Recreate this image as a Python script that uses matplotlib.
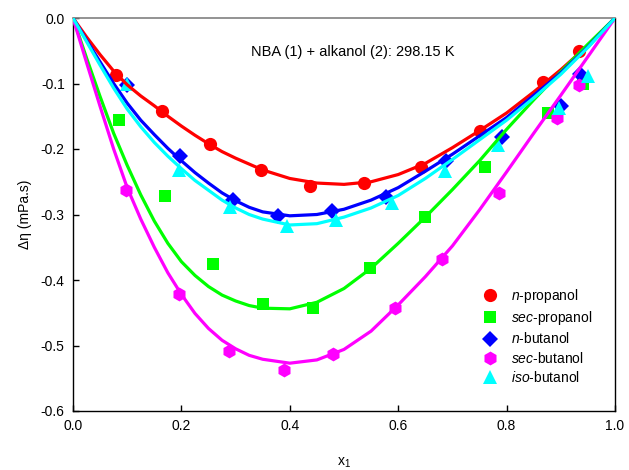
import matplotlib
matplotlib.use("Agg")
import matplotlib.pyplot as plt
from matplotlib.lines import Line2D

plt.rcParams['font.family'] = ['Liberation Sans', 'DejaVu Sans']
plt.rcParams['mathtext.fontset'] = 'custom'
plt.rcParams['mathtext.rm'] = 'Liberation Sans'
plt.rcParams['mathtext.it'] = 'Liberation Sans:italic'

# ---- experimental points ----
x_nprop = [0.079, 0.165, 0.253, 0.346, 0.438, 0.536, 0.642, 0.751, 0.868, 0.934]
y_nprop = [-0.087, -0.142, -0.192, -0.232, -0.256, -0.252, -0.227, -0.173, -0.097, -0.051]

x_sprop = [0.084, 0.170, 0.259, 0.350, 0.442, 0.548, 0.649, 0.761, 0.876, 0.941]
y_sprop = [-0.155, -0.271, -0.375, -0.437, -0.442, -0.382, -0.304, -0.227, -0.145, -0.100]

x_nbut = [0.100, 0.197, 0.295, 0.379, 0.477, 0.577, 0.689, 0.792, 0.900, 0.935]
y_nbut = [-0.102, -0.210, -0.278, -0.302, -0.295, -0.273, -0.219, -0.181, -0.135, -0.085]

x_sbut = [0.097, 0.196, 0.288, 0.390, 0.480, 0.594, 0.681, 0.786, 0.893, 0.934]
y_sbut = [-0.262, -0.422, -0.509, -0.537, -0.513, -0.443, -0.368, -0.267, -0.152, -0.102]

x_ibut = [0.099, 0.196, 0.290, 0.395, 0.486, 0.588, 0.686, 0.785, 0.896, 0.950]
y_ibut = [-0.100, -0.232, -0.289, -0.318, -0.309, -0.283, -0.233, -0.194, -0.138, -0.088]

# ---- fitted curves ----
xf = [0.0, 0.025, 0.05, 0.075, 0.10, 0.125, 0.15, 0.175, 0.20, 0.225, 0.25, 0.275, 0.30,
      0.325, 0.35, 0.40, 0.45, 0.50, 0.55, 0.60, 0.65, 0.70, 0.75, 0.80, 0.85, 0.90,
      0.95, 1.0]
fit_nprop = [0.0, -0.029, -0.056, -0.081, -0.102, -0.119, -0.134, -0.150, -0.165, -0.179,
             -0.192, -0.204, -0.214, -0.223, -0.232, -0.245, -0.252, -0.254, -0.250,
             -0.239, -0.222, -0.198, -0.172, -0.145, -0.113, -0.079, -0.042, 0.0]
fit_sprop = [0.0, -0.061, -0.120, -0.176, -0.225, -0.270, -0.310, -0.344, -0.372, -0.393,
             -0.410, -0.423, -0.432, -0.439, -0.443, -0.444, -0.434, -0.413, -0.382,
             -0.344, -0.304, -0.262, -0.218, -0.170, -0.125, -0.082, -0.040, 0.0]
fit_nbut = [0.0, -0.034, -0.067, -0.100, -0.130, -0.156, -0.178, -0.199, -0.218, -0.236,
            -0.252, -0.267, -0.279, -0.289, -0.296, -0.302, -0.300, -0.292, -0.278,
            -0.259, -0.234, -0.208, -0.180, -0.152, -0.118, -0.084, -0.044, 0.0]
fit_sbut = [0.0, -0.068, -0.135, -0.200, -0.259, -0.307, -0.350, -0.389, -0.422, -0.451,
            -0.474, -0.492, -0.505, -0.515, -0.521, -0.527, -0.522, -0.506, -0.478,
            -0.438, -0.395, -0.348, -0.293, -0.235, -0.176, -0.118, -0.059, 0.0]
fit_ibut = [0.0, -0.036, -0.072, -0.107, -0.139, -0.166, -0.190, -0.211, -0.230, -0.248,
            -0.263, -0.278, -0.290, -0.300, -0.307, -0.316, -0.314, -0.304, -0.290,
            -0.271, -0.245, -0.216, -0.186, -0.156, -0.122, -0.086, -0.045, 0.0]

labels = [r'$\it{n}$-propanol', r'$\it{sec}$-propanol', r'$\it{n}$-butanol',
          r'$\it{sec}$-butanol', r'$\it{iso}$-butanol']
colors = ['#FF0000', '#00FF00', '#0000FF', '#FF00FF', '#00FFFF']
markers = ['o', 's', 'D', 'h', '^']
msizes = [9.5, 9, 8, 10, 9.5]

xt = [0.0, 0.2, 0.4, 0.6, 0.8, 1.0]
yt = [0.0, -0.1, -0.2, -0.3, -0.4, -0.5, -0.6]

fig = plt.figure(figsize=(6.29, 4.70), dpi=100)
ax = fig.add_axes([73/629, 1-411/470, (615-73)/629, (411-18)/470])

pts = [(x_nprop, y_nprop), (x_sprop, y_sprop), (x_nbut, y_nbut), (x_sbut, y_sbut), (x_ibut, y_ibut)]
fits = [fit_nprop, fit_sprop, fit_nbut, fit_sbut, fit_ibut]

for (px, py), c, m, ms in zip(pts, colors, markers, msizes):
    ax.plot(px, py, linestyle='none', marker=m, color=c, markersize=ms,
            markeredgewidth=0, zorder=3)
for f, c in zip(fits, colors):
    ax.plot(xf, f, color=c, linewidth=2.3, zorder=4, solid_joinstyle='round',
            solid_capstyle='round')

ax.set_xlim(0, 1)
ax.set_ylim(-0.6, 0)
ax.set_xticks(xt)
ax.set_yticks(yt)
ax.set_xticklabels(['%.1f' % v for v in xt])
ax.set_yticklabels(['%.1f' % v for v in yt])
ax.tick_params(direction='in', length=4.5, width=1, labelsize=10, pad=6,
               top=False, right=False)
for s in ['left', 'bottom', 'right']:
    ax.spines[s].set_color('black')
    ax.spines[s].set_linewidth(1)
ax.spines['top'].set_color('#808080')
ax.spines['top'].set_linewidth(1.2)

ax.set_xlabel(r'x$_1$', fontsize=10, labelpad=16)
ax.set_ylabel('Δη (mPa.s)', fontsize=10, labelpad=6)

ax.text(0.517, -0.052, 'NBA (1) + alkanol (2): 298.15 K', fontsize=10.5,
        ha='center', va='center')

handles = [Line2D([], [], linestyle='none', marker=m, color=c, markersize=ms,
                  markeredgewidth=0) for c, m, ms in zip(colors, markers, msizes)]
ax.legend(handles, labels, loc='upper left', bbox_to_anchor=(0.737, 0.333),
          frameon=False, fontsize=10, handletextpad=0.75, labelspacing=0.3,
          borderpad=0, handlelength=1.5)

fig.savefig('out.png', dpi=100)
